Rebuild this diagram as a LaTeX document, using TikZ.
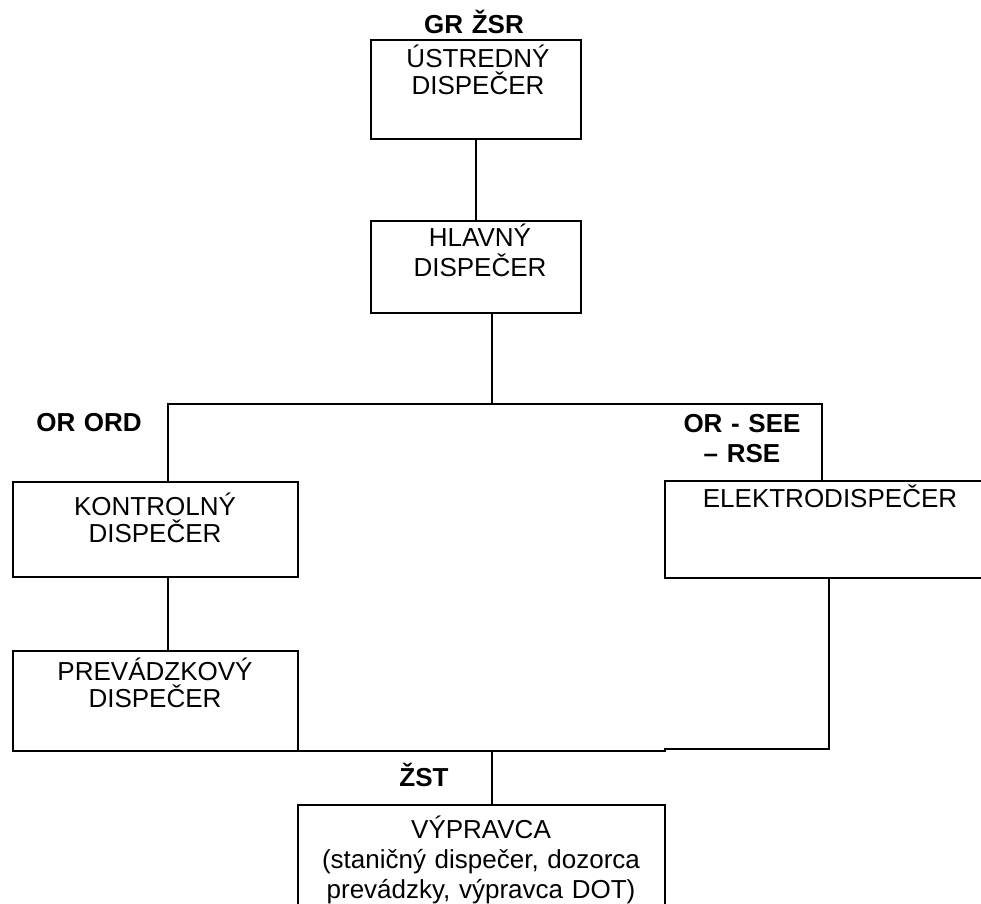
\documentclass[tikz,border=0pt]{standalone}
\usepackage{fontspec}
\setmainfont{Liberation Sans}
\begin{document}
\begin{tikzpicture}[x=1pt,y=-1pt,line width=2.2pt,
  box/.style={draw,rectangle,inner sep=0pt,outer sep=0pt,anchor=north west},
  txt/.style={text width=400pt,align=center,anchor=base,inner sep=0pt},
  lab/.style={text width=200pt,align=center,anchor=base,inner sep=0pt,font=\bfseries\fontsize{26}{30}\selectfont}]
\useasboundingbox (0,0) rectangle (981,903);
\fill[white] (0,0) rectangle (981,903);
\clip (0,0) rectangle (981,903);
% boxes
\node[box,minimum width=210pt,minimum height=99pt] (u) at (371,40) {};
\node[box,minimum width=210pt,minimum height=92pt] (h) at (371,221) {};
\node[box,minimum width=285pt,minimum height=95pt] (k) at (13,482) {};
\node[box,minimum width=330pt,minimum height=97pt] (e) at (665,481) {};
\node[box,minimum width=285pt,minimum height=100pt] (p) at (13,651) {};
\node[box,minimum width=367pt,minimum height=120pt] (v) at (298,805) {};
% box texts
\node[txt,font=\fontsize{26}{27}\selectfont] (ut) at (478,67) {ÚSTREDNÝ\\DISPEČER};
\node[txt,font=\fontsize{26}{30}\selectfont] (ht) at (480,246) {HLAVNÝ\\DISPEČER};
\node[txt,font=\fontsize{26}{27}\selectfont] (kt) at (155,515) {KONTROLNÝ\\DISPEČER};
\node[txt,font=\fontsize{26}{27}\selectfont] (et) at (830,507) {ELEKTRODISPEČER};
\node[txt,font=\fontsize{26}{27}\selectfont] (pt) at (155,680) {PREVÁDZKOVÝ\\DISPEČER};
\node[txt,font=\fontsize{26}{30}\selectfont] (vt) at (481,838) {VÝPRAVCA\\(staničný dispečer, dozorca\\prevádzky, výpravca DOT)};
% bold labels
\node[lab] (gr) at (474,33) {GR ŽSR};
\node[lab] (ord) at (89,431) {OR ORD};
\node[lab] (see) at (742,432) {OR - SEE\\– RSE};
\node[lab] (zst) at (424,786) {ŽST};
% junctions
\coordinate (j0) at (476,140);
\coordinate (j1) at (492,404);
\coordinate (jl) at (168,404);
\coordinate (jr) at (822,404);
\coordinate (eb) at (829,749);
\coordinate (zt) at (492,751);
% connectors
\draw (u.south -| j0) -- (h.north -| j0);
\draw (h.south -| j1) -- (j1);
\draw (k.north -| jl) -- (jl) -- (jr) -- (e.north -| jr);
\draw (k.south -| jl) -- (p.north -| jl);
\draw (e.south -| eb) -- (eb) -- (eb -| e.south west) -- ++(0,2) -- (p.south east);
\draw (zt) -- (v.north -| zt);
\end{tikzpicture}
\end{document}
